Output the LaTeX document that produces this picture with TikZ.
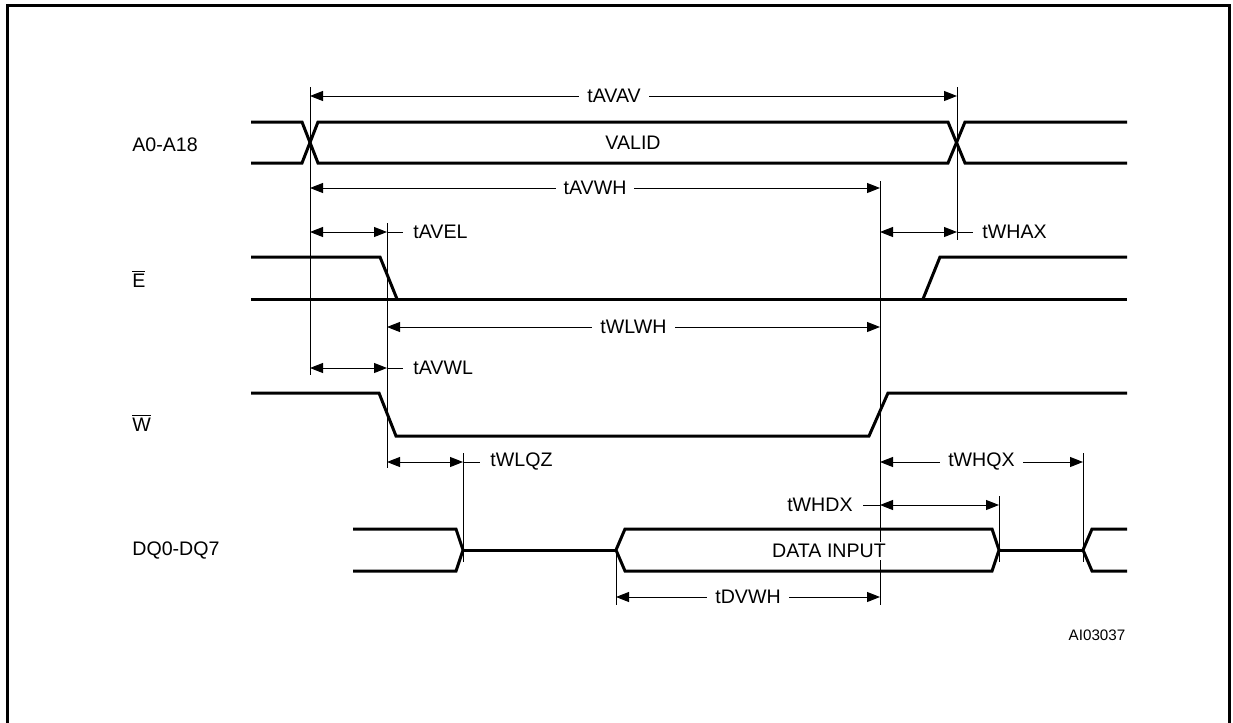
\documentclass[tikz,border=0pt]{standalone}
\usepackage{fontspec}
\setmainfont{Liberation Sans}
\usetikzlibrary{arrows.meta}
\begin{document}
\begin{tikzpicture}[x=0.5pt,y=-0.5pt,
  sig/.style={line width=1.5pt, line join=miter},
  thinline/.style={line width=0.5pt},
  dim/.style={line width=0.5pt, {Triangle[length=6.5pt,width=5pt]}-{Triangle[length=6.5pt,width=5pt]}},
  lbl/.style={font=\fontsize{9.8}{12}\selectfont, inner sep=0pt},
  gaplbl/.style={lbl, fill=white, inner xsep=4pt, inner ysep=1pt},
  sig label/.style={lbl, anchor=west},
  frame/.style={line width=1.5pt},
]
\useasboundingbox (0,0) rectangle (1233,723);
% frame
\draw[frame] (7,723) -- (7,5) -- (1229,5) -- (1229,723);

% timing reference coordinates
\coordinate (a1t) at (310,87);   \coordinate (a1b) at (310,375);
\coordinate (a2t) at (957,87);   \coordinate (a2b) at (957,240);
\coordinate (wht) at (880,181);  \coordinate (whb) at (880,605);
\coordinate (wlt) at (387,223);  \coordinate (wlb) at (387,468);
\coordinate (qzt) at (463,453);  \coordinate (qzb) at (463,562);
\coordinate (dxt) at (999,496);  \coordinate (dxb) at (999,562);
\coordinate (qxt) at (1083,453); \coordinate (qxb) at (1083,562);
\coordinate (dvt) at (616,550);  \coordinate (dvb) at (616,605);
\foreach \p in {a1,a2,wh,wl,qz,dx,qx,dv}
  \draw[thinline] (\p t) -- (\p b);

% signal names
\node[sig label] (nA) at (132,145) {A0-A18};
\node[sig label] (nE) at (132,279) {$\overline{\mbox{E}}$};
\node[sig label] (nW) at (132,423) {$\overline{\mbox{W}}$};
\node[sig label] (nDQ) at (132,551) {DQ0-DQ7};
\node[lbl, font=\fontsize{7.6}{9}\selectfont] (nAI) at (1097,635) {AI03037};

% A0-A18
\draw[sig] (251,122) -- (302,122) -- (318,163) -- (948,163) -- (965,122) -- (1127,122);
\draw[sig] (251,163) -- (302,163) -- (318,122) -- (948,122) -- (965,163) -- (1127,163);
\node[lbl] (valid) at (633,143) {VALID};

% E
\draw[sig] (251,257) -- (380,257) -- (397,299);
\draw[sig] (251,299) -- (1127,299);
\draw[sig] (923,299) -- (940,257) -- (1127,257);

% W
\draw[sig] (251,393) -- (379,393) -- (396,436) -- (869,436) -- (888,393) -- (1127,393);

% DQ
\draw[sig] (353,529) -- (456,529) -- (463,550) -- (456,571) -- (353,571);
\draw[sig] (463,550) -- (616,550);
\draw[sig] (616,550) -- (625,529) -- (992,529) -- (999,550) -- (992,571) -- (625,571) -- cycle;
\draw[sig] (999,550) -- (1083,550);
\draw[sig] (1127,529) -- (1092,529) -- (1083,550) -- (1092,571) -- (1127,571);
\node[gaplbl] (din) at (829,551) {DATA INPUT};

% dimension arrows
\coordinate (avavL) at (310,96);  \coordinate (avavR) at (957,96);
\draw[dim] (avavL) -- node[gaplbl, pos=0.47] (lavav) {tAVAV} (avavR);

\coordinate (avwhL) at (310,188); \coordinate (avwhR) at (880,188);
\draw[dim] (avwhL) -- node[gaplbl] (lavwh) {tAVWH} (avwhR);

\coordinate (avelL) at (310,232); \coordinate (avelR) at (387,232); \coordinate (avelT) at (403,232);
\draw[dim] (avelL) -- (avelR);
\draw[thinline] (avelR) -- (avelT);
\node[sig label] (lavel) at (413,232) {tAVEL};

\coordinate (whaxL) at (880,232); \coordinate (whaxR) at (957,232); \coordinate (whaxT) at (973,232);
\draw[dim] (whaxL) -- (whaxR);
\draw[thinline] (whaxR) -- (whaxT);
\node[sig label] (lwhax) at (982,232) {tWHAX};

\coordinate (wlwhL) at (387,327); \coordinate (wlwhR) at (880,327);
\draw[dim] (wlwhL) -- node[gaplbl] (lwlwh) {tWLWH} (wlwhR);

\coordinate (avwlL) at (310,368); \coordinate (avwlR) at (387,368); \coordinate (avwlT) at (403,368);
\draw[dim] (avwlL) -- (avwlR);
\draw[thinline] (avwlR) -- (avwlT);
\node[sig label] (lavwl) at (413,368) {tAVWL};

\coordinate (wlqzL) at (387,462); \coordinate (wlqzR) at (463,462); \coordinate (wlqzT) at (480,462);
\draw[dim] (wlqzL) -- (wlqzR);
\draw[thinline] (wlqzR) -- (wlqzT);
\node[sig label] (lwlqz) at (490,462) {tWLQZ};

\coordinate (whqxL) at (880,462); \coordinate (whqxR) at (1083,462);
\draw[dim] (whqxL) -- node[gaplbl] (lwhqx) {tWHQX} (whqxR);

\coordinate (whdxL) at (880,505); \coordinate (whdxR) at (999,505); \coordinate (whdxT) at (863,505);
\node[lbl, anchor=east] (lwhdx) at (853,505) {tWHDX};
\draw[thinline] (whdxT) -- (whdxL);
\draw[dim] (whdxL) -- (whdxR);

\coordinate (dvwhL) at (616,597); \coordinate (dvwhR) at (880,597);
\draw[dim] (dvwhL) -- node[gaplbl] (ldvwh) {tDVWH} (dvwhR);
\end{tikzpicture}
\end{document}
